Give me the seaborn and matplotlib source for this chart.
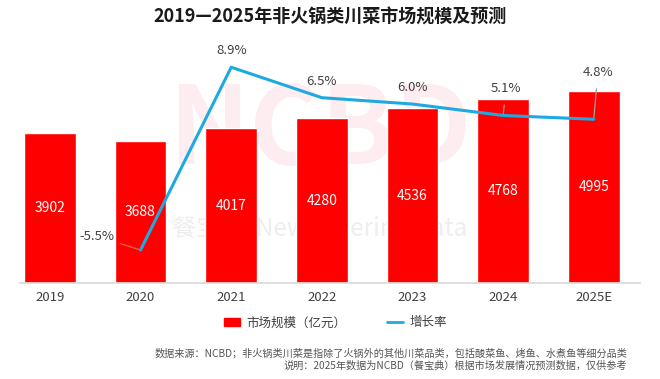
# -*- coding: utf-8 -*-
import numpy as np
import pandas as pd
import matplotlib
matplotlib.use("Agg")
import matplotlib.pyplot as plt
import seaborn as sns
from matplotlib.patches import Patch
from matplotlib.lines import Line2D

# Chart data
years = ["2019", "2020", "2021", "2022", "2023", "2024", "2025E"]
market_size = [3902, 3688, 4017, 4280, 4536, 4768, 4995]
growth = [np.nan, -5.5, 8.9, 6.5, 6.0, 5.1, 4.8]

df = pd.DataFrame({"年份": years, "市场规模": market_size, "增长率": growth})
df["pos"] = np.arange(len(df))

sns.set_theme(style="white")
plt.rcParams["font.family"] = ["Noto Sans CJK SC", "DejaVu Sans"]

red = "#FF0000"
blue = "#1FA9E1"
grey = "#404040"

fig = plt.figure(figsize=(6.6, 3.79), dpi=100)
ax = fig.add_axes([20 / 660, 96 / 379, 620 / 660, 231 / 379])

# faint watermark behind the bars
ax.text(0.485, 0.65, "NCBD", fontsize=78, fontweight="bold", color="#FDEDF1",
        ha="center", va="center", transform=fig.transFigure, zorder=0.5)
ax.text(0.485, 0.398, "餐宝典  New Catering Data", fontsize=17.5, color="#EEEEEE",
        ha="center", va="center", transform=fig.transFigure, zorder=0.5)

sns.barplot(data=df, x="年份", y="市场规模", color=red, saturation=1,
            width=0.57, ax=ax, zorder=2)
ax.set_ylim(0, 6000)
ax.set_xlim(-0.33, len(years) - 0.49)

for i, v in enumerate(market_size):
    ax.text(i, v / 2, f"{v}", color="white", fontsize=10, ha="center", va="center", zorder=3)

ax.set_xlabel("")
ax.set_ylabel("")
ax.set_yticks([])
for s in ["top", "right", "left"]:
    ax.spines[s].set_visible(False)
ax.spines["bottom"].set_color("#D9D9D9")
ax.tick_params(axis="x", colors=grey, labelsize=9.5, length=0, pad=6)

# growth rate on secondary axis
ax2 = ax.twinx()
sns.lineplot(data=df.dropna(), x="pos", y="增长率", color=blue, linewidth=2.2,
             ax=ax2, zorder=4)
ax2.set_ylim(-8.1, 10.1)
ax2.set_yticks([])
ax2.set_ylabel("")
ax2.set_xlabel("")
for s in ax2.spines.values():
    s.set_visible(False)
ax2.set_xlim(ax.get_xlim())

# label offsets in points (dx, dy, leader colour)
label_offsets = {
    1: (-19, 10, "#E07040"),
    2: (0, 12, None),
    3: (0, 12, None),
    4: (0, 12, None),
    5: (2, 19.5, "#A0A0A0"),
    6: (3, 34, "#A0A0A0"),
}
for i, (dx, dy, lc) in label_offsets.items():
    txt = f"{growth[i]:.1f}%"
    if lc is None:
        ax2.annotate(txt, (i, growth[i]), xytext=(dx, dy), textcoords="offset points",
                     ha="center", va="center", fontsize=9.5, color=grey)
    else:
        ax2.annotate(txt, (i, growth[i]), xytext=(dx, dy), textcoords="offset points",
                     ha="right" if i == 1 else "center", va="center",
                     fontsize=9.5, color=grey,
                     arrowprops=dict(arrowstyle="-", color=lc, lw=0.9,
                                     shrinkA=2 if i == 1 else 5, shrinkB=0))

# title
fig.text(0.5, 0.955, "2019—2025年非火锅类川菜市场规模及预测", fontsize=13,
         fontweight="bold", color="#1A1A1A", ha="center", va="center")

# legend
handles = [Patch(facecolor=red, edgecolor=red, label="市场规模（亿元）"),
           Line2D([0], [0], color=blue, lw=2, label="增长率")]
fig.legend(handles=handles, loc="center", bbox_to_anchor=(0.508, 0.148), ncol=2,
           frameon=False, fontsize=9, labelcolor=grey, handlelength=1.3,
           handleheight=0.6, columnspacing=3.2, handletextpad=0.5)

# footnotes
fig.text(0.95, 0.069, "数据来源：NCBD；非火锅类川菜是指除了火锅外的其他川菜品类，包括酸菜鱼、烤鱼、水煮鱼等细分品类",
         fontsize=7.3, color="#555555", ha="right", va="center")
fig.text(0.95, 0.035, "说明：2025年数据为NCBD（餐宝典）根据市场发展情况预测数据，仅供参考",
         fontsize=7.3, color="#555555", ha="right", va="center")

fig.savefig("out.png", dpi=100)
